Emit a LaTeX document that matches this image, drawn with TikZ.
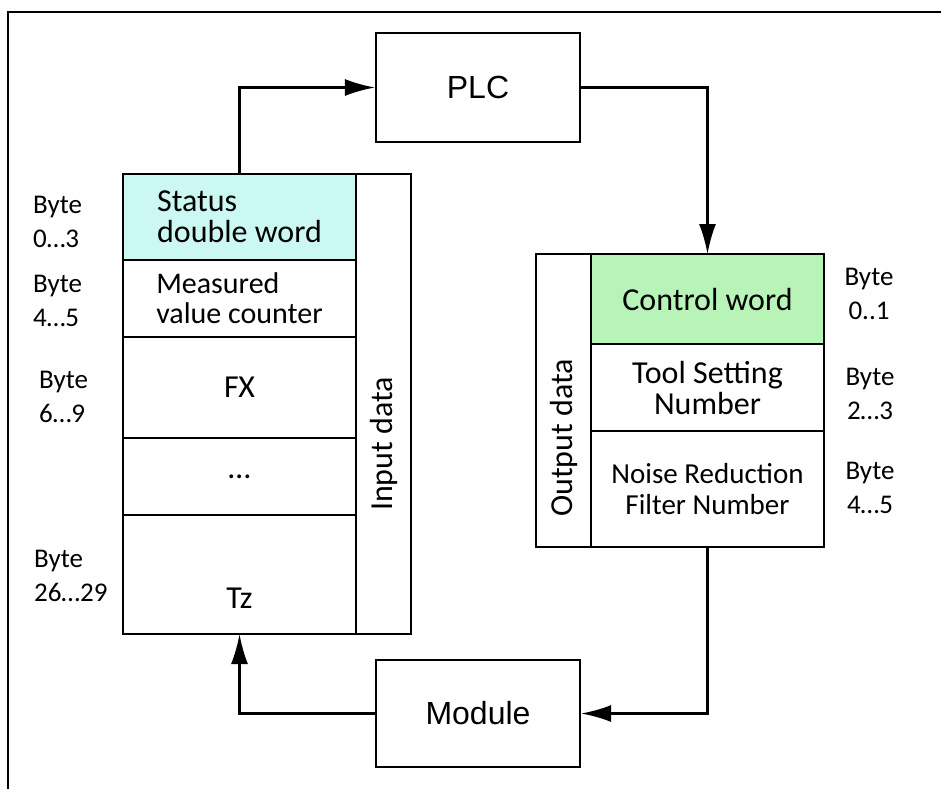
\documentclass[tikz,border=0pt]{standalone}
\usepackage{fontspec}
\setmainfont{Carlito}
\newfontfamily\arialfont{Liberation Sans}
\usetikzlibrary{arrows.meta,positioning}

\definecolor{statuscyan}{RGB}{204,248,244}
\definecolor{ctrlgreen}{RGB}{184,244,184}

\begin{document}
\begin{tikzpicture}[x=0.5pt, y=-0.5pt, line width=1.1pt,
    blk/.style={rectangle, draw, minimum width=102pt, minimum height=54.5pt, font=\arialfont\fontsize{16}{19}\selectfont},
    cell/.style={rectangle, draw, minimum width=116.5pt, inner sep=0pt, outer sep=0pt, align=left, font=\fontsize{16}{15.5}\selectfont},
    col/.style={rectangle, draw, minimum width=27.5pt, inner sep=0pt, outer sep=0pt},
    coltext/.style={rotate=90, font=\fontsize{16}{16}\selectfont},
    byte/.style={align=left, inner sep=0pt, font=\fontsize{13.5}{17}\selectfont},
    ar/.style={->, >={Latex[length=15pt,width=8.5pt]}}]
    \useasboundingbox (0,0) rectangle (941,789);
    \draw (941,12) -- (8,12) -- (8,789);

    \node [blk] (plc) at (478,87.5) {PLC};
    \node [blk, minimum height=53.5pt] (mod) at (478,713.5) {Module};

    % input data
    \node [cell, fill=statuscyan, minimum height=43pt, anchor=north west] (status) at (123,174) {Status\\double word};
    \node [cell, minimum height=38.5pt, below=0pt of status, font=\fontsize{15}{15}\selectfont] (meas) {Measured\\value counter};
    \node [cell, minimum height=50.5pt, below=0pt of meas] (fx) {FX};
    \node [cell, minimum height=38.5pt, below=0pt of fx] (dots) {…};
    \node [cell, minimum height=59.5pt, below=0pt of dots,
        label={[font=\fontsize{16}{15.5}\selectfont, yshift=-11.75pt]center:Tz}] (tz) {};
    \node [col, minimum height=230pt, anchor=north west] (incol) at (status.north east) {};
    \node [coltext] (intext) at ([yshift=-20pt]incol.center) {Input data};

    % output data
    \node [cell, fill=ctrlgreen, minimum height=45pt, anchor=north west, align=center] (ctrl) at (591,254) {Control word};
    \node [cell, minimum height=43.5pt, below=0pt of ctrl, align=center] (tool) {Tool Setting\\Number};
    \node [cell, minimum height=58pt, below=0pt of tool, align=center, font=\fontsize{14.5}{15.5}\selectfont] (noise) {Noise Reduction\\Filter Number};
    \node [col, minimum height=146.5pt, anchor=north east] (outcol) at (ctrl.north west) {};
    \node [coltext] (outtext) at ([yshift=-18.75pt]outcol.center) {Output data};

    % byte ranges
    \node [byte, anchor=west] (b0) at (32,222) {Byte\\0…3};
    \node [byte, anchor=west] (b4) at (32,301) {Byte\\4…5};
    \node [byte, anchor=west] (b6) at (38,397) {Byte\\6…9};
    \node [byte, anchor=west] (b26) at (33,576) {Byte\\26…29};
    \node [byte, align=center] (c0) at (869,293.5) {Byte\\0..1};
    \node [byte, align=center] (c2) at (870,393.5) {Byte\\2…3};
    \node [byte, align=center] (c4) at (870,487.5) {Byte\\4…5};

    \draw [ar] (status.north) |- (plc.west);
    \draw [ar] (plc.east) -| (ctrl.north);
    \draw [ar] (noise.south) |- (mod.east);
    \draw [ar] (mod.west) -| (tz.south);
\end{tikzpicture}
\end{document}
